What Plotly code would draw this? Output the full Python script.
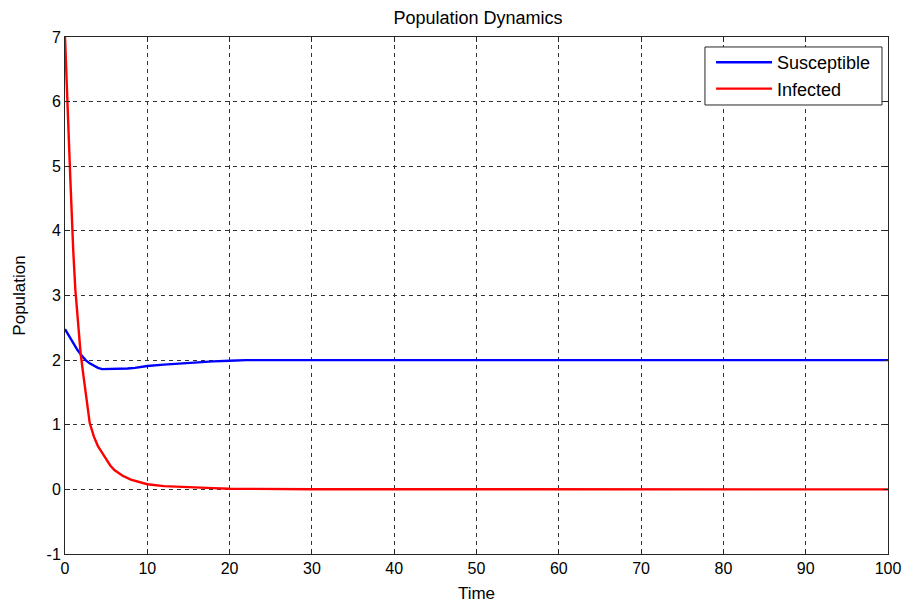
import plotly.graph_objects as go

# Data
t_inf = [0, 0.1, 0.25, 0.4, 0.5, 0.65, 0.75, 0.9, 1.0, 1.25, 1.5, 1.9, 2.2, 2.5, 3.0, 3.5, 4.0,
         4.5, 5.0, 5.5, 6.0, 7.0, 8.0, 9.0, 10.0, 12.0, 15.0, 18.0, 20.0, 25.0, 30.0, 100.0]
infected = [7.0, 6.6, 6.0, 5.6, 5.3, 4.8, 4.4, 4.0, 3.7, 3.1, 2.7, 2.1, 1.8, 1.5, 1.03, 0.82, 0.67,
            0.57, 0.46, 0.37, 0.3, 0.21, 0.15, 0.11, 0.08, 0.05, 0.03, 0.02, 0.01, 0.005, 0.002, 0.0]

t_sus = [0, 0.5, 1.0, 1.5, 1.9, 2.5, 3.0, 3.5, 4.0, 4.5, 5.0, 6.0, 7.0, 7.6, 8.5, 10.0, 12.0,
         15.0, 18.0, 20.0, 22.0, 30.0, 100.0]
susceptible = [2.48, 2.37, 2.28, 2.16, 2.09, 2.0, 1.95, 1.91, 1.88, 1.86, 1.86, 1.86, 1.86, 1.87, 1.88,
               1.91, 1.93, 1.96, 1.98, 1.99, 2.0, 2.0, 2.0]

x_ticks = [0, 10, 20, 30, 40, 50, 60, 70, 80, 90, 100]
y_ticks = [-1, 0, 1, 2, 3, 4, 5, 6, 7]

FONT = "Liberation Sans, Arial, sans-serif"

fig = go.Figure()
fig.add_trace(go.Scatter(x=t_sus, y=susceptible, mode="lines", name="Susceptible",
                         line=dict(color="#0000ff", width=2.4)))
fig.add_trace(go.Scatter(x=t_inf, y=infected, mode="lines", name="Infected",
                         line=dict(color="#ff0000", width=2.4)))

axis_common = dict(
    showline=True, linecolor="#262626", linewidth=1, mirror="ticks",
    showgrid=True, gridcolor="#333333", gridwidth=1, griddash="4px,4px",
    zeroline=False, ticks="inside", ticklen=5, tickcolor="#262626",
    tickfont=dict(family=FONT, size=16, color="#000000"),
    automargin=False,
)

# legend frame (MATLAB-style box with padding)
fig.add_shape(type="rect", xref="paper", yref="paper",
              x0=0.7776, x1=0.9927, y0=0.8685, y1=0.9807,
              line=dict(color="#262626", width=1), fillcolor="white", layer="above")

fig.update_layout(
    width=907, height=604,
    margin=dict(l=65, r=19, t=37, b=50),
    paper_bgcolor="white", plot_bgcolor="white",
    title=dict(text="Population Dynamics", x=0.527, xanchor="center", y=0.971, yanchor="middle",
               font=dict(family=FONT, size=18, color="#000000")),
    xaxis=dict(range=[0, 100], tickvals=x_ticks, ticktext=[str(v) for v in x_ticks],
               title=dict(text="Time", font=dict(family=FONT, size=17, color="#000000"), standoff=10),
               **axis_common),
    yaxis=dict(range=[-1, 7], tickvals=y_ticks, ticktext=[str(v) for v in y_ticks],
               title=dict(text="Population", font=dict(family=FONT, size=17, color="#000000"), standoff=16),
               **axis_common),
    legend=dict(x=0.785, xanchor="left", y=0.9865, yanchor="top",
                bgcolor="rgba(0,0,0,0)", borderwidth=0,
                font=dict(family=FONT, size=18, color="#000000"),
                itemwidth=56, tracegroupgap=0),
    showlegend=True,
)

fig.write_html("out.html")
